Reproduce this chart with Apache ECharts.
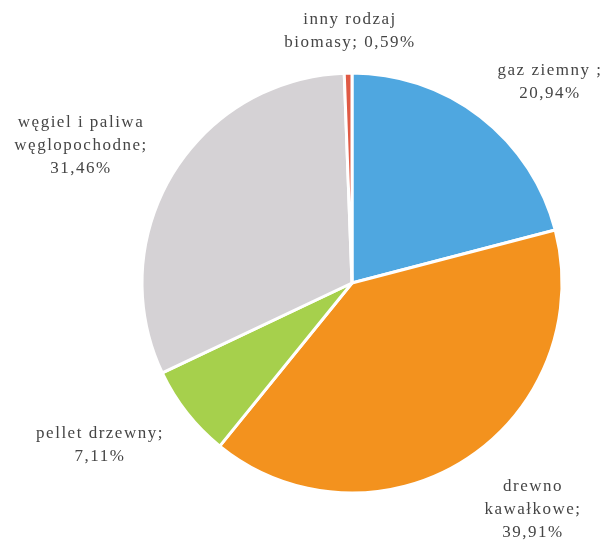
<!DOCTYPE html>
<html>
<head>
<meta charset="utf-8">
<script src="https://cdn.jsdelivr.net/npm/echarts@6/dist/echarts.min.js"></script>
<style>
  html, body { margin: 0; padding: 0; background: #fff; }
  #chart { width: 608px; height: 542px; }
</style>
</head>
<body>
<div id="chart"></div>
<script>
// Fuel shares (percent), clockwise from 12 o'clock
const categories = ['gaz ziemny', 'drewno kawałkowe', 'pellet drzewny', 'węgiel i paliwa węglopochodne', 'inny rodzaj biomasy'];
const shares = [20.94, 39.91, 7.11, 31.46, 0.59];
// Label text per slice; {v} is replaced with the share
const labelTexts = ['gaz ziemny ;\n{v}', 'drewno\nkawałkowe;\n{v}', 'pellet drzewny;\n{v}', 'węgiel i paliwa\nwęglopochodne;\n{v}', 'inny rodzaj\nbiomasy; {v}'];
const colors = ['#4fa7e0', '#f3921e', '#a6d04c', '#d5d2d5', '#e05a45'];

// Pie geometry and label placement (label centre offsets from the pie centre)
const CX = 352, CY = 283, R = 210;
const labelOffsets = [[198, -201], [181, 227], [-252, 162], [-271, -137], [-2, -252]];

const fmt = v => v.toFixed(2).replace('.', ',') + '%';

// Track the label glyphs out a little (canvas letterSpacing)
const baseFillText = CanvasRenderingContext2D.prototype.fillText;
CanvasRenderingContext2D.prototype.fillText = function () {
  this.letterSpacing = '1.5px';
  return baseFillText.apply(this, arguments);
};

const chart = echarts.init(document.getElementById('chart'), null, { renderer: 'canvas' });
chart.setOption({
  backgroundColor: '#ffffff',
  animation: false,
  series: [{
    type: 'pie',
    center: [CX, CY],
    radius: R,
    startAngle: 90,
    clockwise: true,
    avoidLabelOverlap: false,
    itemStyle: { borderColor: '#ffffff', borderWidth: 3 },
    label: {
      show: true,
      position: 'outside',
      fontFamily: 'Liberation Serif',
      fontSize: 17,
      lineHeight: 23,
      color: '#454545',
      align: 'center',
      formatter: p => labelTexts[p.dataIndex].replace('{v}', fmt(shares[p.dataIndex]))
    },
    labelLine: { show: false },
    labelLayout: params => {
      const o = labelOffsets[params.dataIndex];
      return { x: CX + o[0], y: CY + o[1], align: 'center', verticalAlign: 'middle' };
    },
    data: categories.map((name, i) => ({ name, value: shares[i], itemStyle: { color: colors[i] } }))
  }]
});
</script>
</body>
</html>
